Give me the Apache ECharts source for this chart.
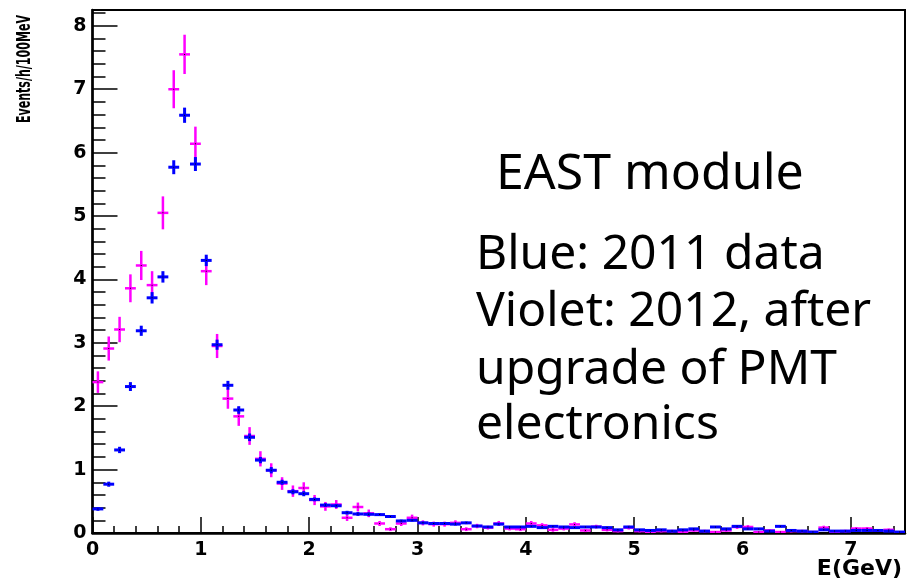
<!DOCTYPE html>
<html>
<head>
<meta charset="utf-8">
<script src="https://cdn.jsdelivr.net/npm/echarts@6/dist/echarts.min.js"></script>
<style>
  html, body { margin: 0; padding: 0; background: #fff; }
  #chart { width: 918px; height: 587px; }
</style>
</head>
<body>
<div id="chart"></div>
<script>
// Energy histogram, 0.1 GeV bins starting at 0 GeV
const BIN_WIDTH = 0.1;
const xTicks = [0, 1, 2, 3, 4, 5, 6, 7];
const yTicks = [0, 1, 2, 3, 4, 5, 6, 7, 8];

// 2011 data (blue): events / h / 100 MeV per bin
const blue2011 = [
  0.38, 0.77, 1.31, 2.31, 3.19, 3.71, 4.04, 5.77, 6.59, 5.82,
  4.30, 2.97, 2.33, 1.94, 1.51, 1.15, 0.99, 0.80, 0.65, 0.62,
  0.53, 0.44, 0.43, 0.32, 0.30, 0.295, 0.29, 0.26, 0.19, 0.20,
  0.16, 0.15, 0.15, 0.14, 0.16, 0.11, 0.095, 0.14, 0.095, 0.095,
  0.105, 0.085, 0.105, 0.095, 0.085, 0.095, 0.095, 0.085, 0.05, 0.095,
  0.05, 0.04, 0.05, 0.03, 0.05, 0.065, 0.03, 0.095, 0.065, 0.105,
  0.065, 0.065, 0.03, 0.105, 0.04, 0.03, 0.015, 0.05, 0.03, 0.03,
  0.04, 0.04, 0.04, 0.03, 0.015
];
const blue2011Err = [
  0.03, 0.04, 0.05, 0.07, 0.08, 0.09, 0.09, 0.11, 0.12, 0.11,
  0.09, 0.08, 0.07, 0.06, 0.06, 0.05, 0.05, 0.04, 0.04, 0.04,
  0.03, 0.03, 0.03, 0.03, 0.03, 0.03, 0.02, 0.02, 0.02, 0.02,
  0.02, 0.02, 0.02, 0.02, 0.02, 0.015, 0.015, 0.02, 0.015, 0.015,
  0.015, 0.015, 0.015, 0.015, 0.015, 0.015, 0.015, 0.015, 0.01, 0.015,
  0.01, 0.01, 0.01, 0.01, 0.01, 0.01, 0.01, 0.015, 0.01, 0.015,
  0.01, 0.01, 0.01, 0.015, 0.01, 0.01, 0.01, 0.01, 0.01, 0.01,
  0.01, 0.01, 0.01, 0.01, 0.01
];

// 2012 data after PMT electronics upgrade (violet)
const violet2012 = [
  2.38, 2.91, 3.21, 3.86, 4.22, 3.91, 5.05, 7.00, 7.55, 6.14,
  4.13, 2.95, 2.12, 1.84, 1.53, 1.17, 0.99, 0.78, 0.66, 0.71,
  0.52, 0.42, 0.45, 0.24, 0.41, 0.31, 0.15, 0.06, 0.15, 0.24,
  0.16, 0.14, 0.14, 0.16, 0.06, 0.11, 0.085, 0.15, 0.07, 0.06,
  0.15, 0.12, 0.05, 0.07, 0.135, 0.04, 0.10, 0.05, 0.03, 0.085,
  0.03, 0.01, 0.03, 0.03, 0.02, 0.04, 0.03, 0.015, 0.04, 0.095,
  0.095, 0.015, 0.04, 0.015, 0.03, 0.03, 0.015, 0.085, 0.02, 0.03,
  0.07, 0.07, 0.04, 0.05, 0.01
];
const violet2012Err = [
  0.17, 0.19, 0.20, 0.22, 0.23, 0.22, 0.26, 0.30, 0.31, 0.27,
  0.22, 0.19, 0.16, 0.15, 0.14, 0.12, 0.11, 0.10, 0.09, 0.09,
  0.08, 0.07, 0.07, 0.05, 0.07, 0.06, 0.04, 0.03, 0.04, 0.05,
  0.04, 0.04, 0.04, 0.04, 0.03, 0.035, 0.03, 0.04, 0.03, 0.03,
  0.04, 0.035, 0.03, 0.03, 0.035, 0.025, 0.03, 0.025, 0.02, 0.03,
  0.02, 0.01, 0.02, 0.02, 0.015, 0.02, 0.02, 0.01, 0.02, 0.03,
  0.03, 0.01, 0.02, 0.01, 0.02, 0.02, 0.01, 0.03, 0.015, 0.02,
  0.025, 0.025, 0.02, 0.02, 0.01
];

const annotationTitle = 'EAST module';
const annotationLines = [
  'Blue: 2011 data',
  'Violet: 2012, after',
  'upgrade of PMT',
  'electronics'
];
const xAxisTitle = 'E(GeV)';
const yAxisTitle = 'Events/h/100MeV';

function binRows(values, errors) {
  return values.map((v, i) => [(i + 0.5) * BIN_WIDTH, v, errors[i]]);
}

// Error-bar cross: horizontal bar over the bin width, vertical bar over +-error
function crossRenderer(color, width) {
  return function (params, api) {
    const x = api.value(0), y = api.value(1), e = api.value(2);
    const l = api.coord([x - BIN_WIDTH / 2, y]);
    const r = api.coord([x + BIN_WIDTH / 2, y]);
    const t = api.coord([x, y + e]);
    const b = api.coord([x, y - e]);
    const c = api.coord([x, y]);
    const st = { stroke: color, lineWidth: width };
    return {
      type: 'group',
      children: [
        { type: 'line', shape: { x1: l[0], y1: l[1], x2: r[0], y2: r[1] }, style: st },
        { type: 'line', shape: { x1: t[0], y1: t[1], x2: b[0], y2: b[1] }, style: st },
        { type: 'rect', shape: { x: c[0] - 0.5, y: c[1] - 0.5, width: 1, height: 1 }, style: { fill: '#000' } }
      ]
    };
  };
}

const tickFont = { fontFamily: 'DejaVu Sans', fontWeight: 'bold', fontSize: 19, color: '#000' };
const NOTE_FONT = "'Comic Sans MS', 'Noto Sans'";
const NOTE_SIZE = 48;

// Annotation line placed by its baseline
function noteText(text, x, baseline, size) {
  return {
    type: 'text', x: x, y: baseline - 0.8 * size,
    style: {
      text: text, align: 'left', verticalAlign: 'top',
      fontFamily: NOTE_FONT, fontSize: size, fill: '#000'
    }
  };
}

const chart = echarts.init(document.getElementById('chart'), null, { renderer: 'canvas' });
chart.setOption({
  backgroundColor: '#ffffff',
  animation: false,
  grid: {
    left: 92.5, right: 13, top: 10, bottom: 54,
    show: true, borderColor: '#000', borderWidth: 2, backgroundColor: 'transparent'
  },
  xAxis: {
    type: 'value',
    min: xTicks[0], max: 7.5, interval: 1,
    axisLine: { show: true, onZero: false, lineStyle: { color: '#000', width: 2.5 } },
    axisTick: { show: true, inside: true, length: 16, lineStyle: { color: '#000', width: 1.5 } },
    minorTick: { show: true, splitNumber: 5, length: 7, lineStyle: { color: '#000', width: 1.5 } },
    splitLine: { show: false },
    axisLabel: Object.assign({ margin: 8, showMaxLabel: false,
      formatter: v => (xTicks.indexOf(v) >= 0 ? String(v) : '') }, tickFont)
  },
  yAxis: {
    type: 'value',
    min: yTicks[0], max: 8.25, interval: 1,
    axisLine: { show: true, onZero: false, lineStyle: { color: '#000', width: 2.5 } },
    axisTick: { show: true, inside: true, length: 25, lineStyle: { color: '#000', width: 1.5 } },
    minorTick: { show: true, splitNumber: 5, length: 13, lineStyle: { color: '#000', width: 1.5 } },
    splitLine: { show: false },
    axisLabel: Object.assign({ margin: 6, showMaxLabel: false,
      formatter: v => (yTicks.indexOf(v) >= 0 ? String(v) : '') }, tickFont)
  },
  series: [
    {
      name: '2012', type: 'custom', clip: true,
      renderItem: crossRenderer('#ff00ff', 2.5),
      data: binRows(violet2012, violet2012Err),
      z: 2
    },
    {
      name: '2011', type: 'custom', clip: true,
      renderItem: crossRenderer('#0000ff', 3),
      data: binRows(blue2011, blue2011Err),
      z: 3
    }
  ],
  graphic: [
    {
      // rotated axis title, compressed along its length and widened across it
      type: 'group', x: 25, y: 15, rotation: Math.PI / 2,
      children: [{
        type: 'text', scaleX: 0.79, scaleY: 1.35,
        style: {
          text: yAxisTitle, align: 'right', verticalAlign: 'middle',
          fontFamily: 'DejaVu Sans', fontWeight: 'bold', fontSize: 14, fill: '#000'
        }
      }]
    },
    {
      type: 'text', x: 902, y: 580,
      style: {
        text: xAxisTitle, align: 'right', verticalAlign: 'bottom',
        fontFamily: 'DejaVu Sans', fontWeight: 'bold', fontSize: 22, fill: '#000'
      }
    },
    noteText(annotationTitle, 496, 190, 50),
    noteText(annotationLines[0], 476, 270, NOTE_SIZE),
    noteText(annotationLines[1], 476, 327, NOTE_SIZE),
    noteText(annotationLines[2], 476, 385, NOTE_SIZE),
    noteText(annotationLines[3], 476, 440, NOTE_SIZE)
  ]
});
</script>
</body>
</html>
